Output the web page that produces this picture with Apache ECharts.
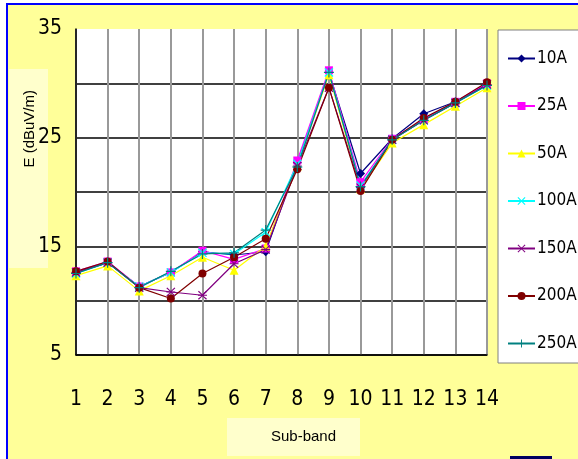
<!DOCTYPE html>
<html>
<head>
<meta charset="utf-8">
<script src="https://cdn.jsdelivr.net/npm/echarts@6/dist/echarts.min.js"></script>
<style>
  html, body { margin: 0; padding: 0; background: #fff; }
  #chart { width: 578px; height: 459px; }
</style>
</head>
<body>
<div id="chart"></div>
<script>
// 数据
var subBands = ['1','2','3','4','5','6','7','8','9','10','11','12','13','14'];
var names = ['10A','25A','50A','100A','150A','200A','250A'];
var v10A  = [12.6, 13.5, 11.3, 12.6, 14.5, 14.2, 14.5, 22.7, 31.0, 21.7, 24.9, 27.2, 28.3, 29.9];
var v25A  = [12.7, 13.6, 11.3, 12.6, 14.6, 13.8, 14.8, 22.9, 31.2, 20.9, 24.9, 26.7, 28.3, 30.0];
var v50A  = [12.3, 13.2, 10.9, 12.3, 14.0, 12.8, 15.0, 22.4, 30.8, 20.3, 24.5, 26.2, 27.9, 29.6];
var v100A = [12.5, 13.5, 11.3, 12.6, 14.4, 14.3, 16.3, 22.6, 31.0, 20.6, 24.8, 26.6, 28.2, 29.8];
var v150A = [12.6, 13.5, 11.2, 10.8, 10.5, 13.4, 14.7, 22.4, 29.6, 20.4, 24.8, 26.6, 28.2, 29.9];
var v200A = [12.7, 13.6, 11.2, 10.2, 12.5, 14.0, 15.7, 22.1, 29.6, 20.1, 24.8, 26.8, 28.3, 30.1];
var v250A = [12.5, 13.5, 11.2, 12.7, 14.3, 14.4, 16.5, 22.3, 31.0, 20.5, 24.8, 26.6, 28.2, 29.8];
var yTickLabels = ['5', '15', '25', '35'];

var allValues = [v10A, v25A, v50A, v100A, v150A, v200A, v250A];
var colors = ['#000080', '#ff00ff', '#ffff00', '#00ffff', '#800080', '#800000', '#008080'];
var xSym = 'path://M0,1L1,0L5,4L9,0L10,1L6,5L10,9L9,10L5,6L1,10L0,9L4,5Z';
var starSym = 'path://M0,1L1,0L5,4L9,0L10,1L6,4.4L10,4.4L10,5.6L6,5.6L10,9L9,10L5,6L1,10L0,9L4,5.6L0,5.6L0,4.4L4,4.4Z';
var plusSym = 'path://M4.4,0L5.6,0L5.6,4.4L10,4.4L10,5.6L5.6,5.6L5.6,10L4.4,10L4.4,5.6L0,5.6L0,4.4L4.4,4.4Z';
var symbols = ['diamond', 'rect', 'triangle', xSym, starSym, 'circle', plusSym];
var symSizes = [9, 8, 9, 9, 9, 8, 10];

var font = "'DejaVu Sans Condensed', 'Liberation Sans Narrow', sans-serif";

var myChart = echarts.init(document.getElementById('chart'));

var series = [];
for (var i = 0; i < names.length; i++) {
    series.push({
        name: names[i],
        type: 'line',
        data: allValues[i],
        symbol: symbols[i],
        symbolSize: symSizes[i],
        itemStyle: { color: colors[i] },
        lineStyle: { color: colors[i], width: 1.2 }
    });
}

option = {
    animation: false,
    backgroundColor: '#ffffff',
    graphic: [
        { type: 'rect', z: -10, shape: { x: 7, y: 4, width: 580, height: 470 },
          style: { fill: '#ffff99', stroke: '#0000ff', lineWidth: 2 } },
        { type: 'rect', z: -9, shape: { x: 9, y: 69, width: 39, height: 199 },
          style: { fill: '#ffffcc' } },
        { type: 'rect', z: -9, shape: { x: 227, y: 418, width: 133, height: 38 },
          style: { fill: '#ffffcc' } },
        { type: 'rect', z: -9, shape: { x: 498, y: 30, width: 90, height: 333 },
          style: { fill: '#ffffff', stroke: '#808080', lineWidth: 1 } },
        { type: 'rect', z: -9, shape: { x: 510, y: 456, width: 42, height: 4 },
          style: { fill: '#000060' } },
        { type: 'text', left: 22, top: 90, rotation: Math.PI / 2,
          style: { text: 'E (dBuV/m)', font: "15px 'Liberation Sans', Arial, sans-serif", fill: '#000' } },
        { type: 'text', left: 271, top: 429,
          style: { text: 'Sub-band', font: "15px 'Liberation Sans', Arial, sans-serif", fill: '#000' } }
    ],
    grid: {
        left: 76, top: 29, right: 91, bottom: 104,
        show: true, backgroundColor: '#ffffff', borderWidth: 0
    },
    legend: {
        orient: 'vertical',
        left: 502, top: 45,
        itemWidth: 27, itemHeight: 10,
        itemGap: 30.5,
        data: names,
        textStyle: { fontFamily: font, fontSize: 17, color: '#000', padding: [0, 0, 0, -3] }
    },
    xAxis: {
        type: 'category',
        data: subBands,
        boundaryGap: false,
        axisLine: { lineStyle: { color: '#000', width: 1.5 } },
        axisTick: { show: false },
        axisLabel: { margin: 34, fontFamily: font, fontSize: 21, color: '#000' },
        splitLine: { show: true, lineStyle: { color: '#999999', width: 2 } }
    },
    yAxis: {
        type: 'value',
        min: 5, max: 35, interval: 5,
        axisLine: { show: true, lineStyle: { color: '#000', width: 1.5 } },
        axisTick: { show: false },
        axisLabel: {
            margin: 14, fontFamily: font, fontSize: 21, color: '#000',
            formatter: function (v) {
                return yTickLabels.indexOf(String(v)) >= 0 ? String(v) : '';
            }
        },
        splitLine: { show: true, lineStyle: {
            color: ['#000', '#000', '#000', '#000', '#000', '#000', 'rgba(0,0,0,0)'], width: 1.5 } }
    },
    series: series
};

myChart.setOption(option);
</script>
</body>
</html>
